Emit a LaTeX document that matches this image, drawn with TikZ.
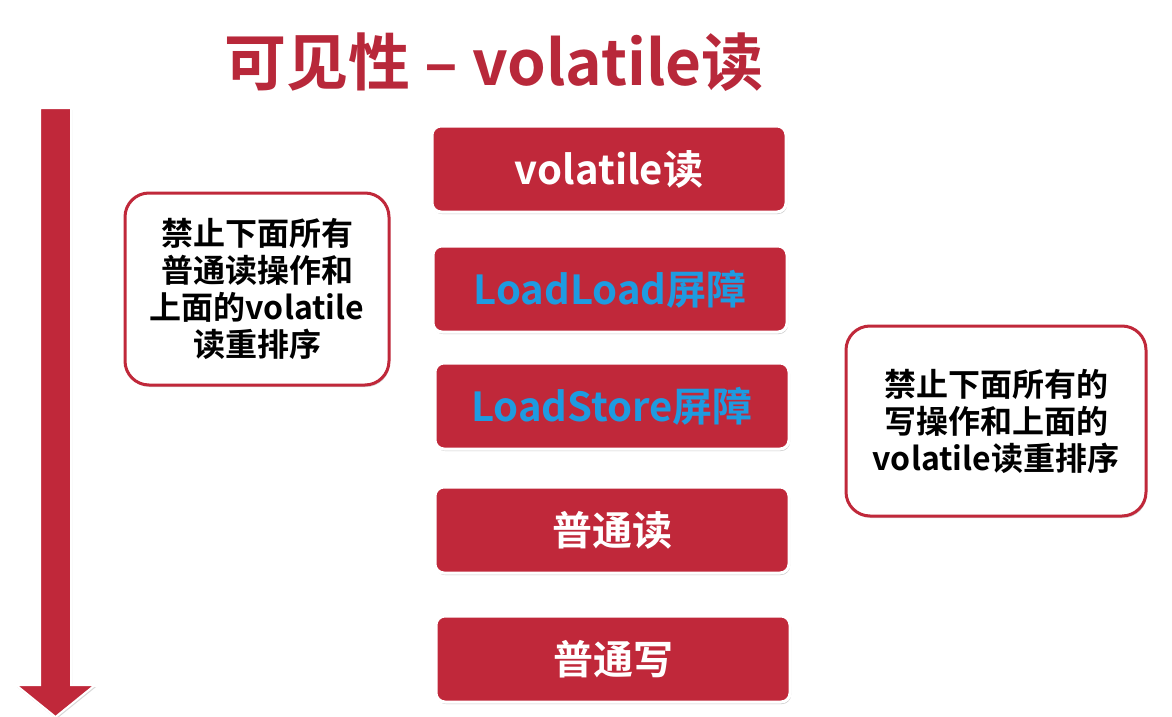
\documentclass[tikz,border=0pt]{standalone}
\usepackage{fontspec}
\setmainfont{Noto Sans CJK SC Bold}
\usetikzlibrary{shadows}
\definecolor{cred}{HTML}{C0283A}
\definecolor{tred}{HTML}{B8283A}
\definecolor{cblue}{HTML}{1E9BE0}
\begin{document}
\begin{tikzpicture}[x=1pt,y=-1pt,
  stepbox/.style={draw=white,line width=3pt,fill=cred,rounded corners=9pt,
    drop shadow={shadow xshift=1pt,shadow yshift=-2pt,opacity=0.4},
    minimum width=354pt,minimum height=86pt,font=\fontsize{40}{46}\selectfont,text=white},
  note/.style={draw=cred,line width=3pt,fill=white,rounded corners=24pt,
    drop shadow={shadow xshift=1pt,shadow yshift=-2pt,opacity=0.3},
    font=\fontsize{32}{37}\selectfont,align=center,text=black}]
\useasboundingbox (0,0) rectangle (1172,717);
\fill[white] (0,0) rectangle (1172,717);
\node[text=tred,font=\fontsize{62}{70}\selectfont] (title) at (494,62) {可见性 – volatile读};
\fill[cred,draw=white,line width=2pt,drop shadow={shadow xshift=1pt,shadow yshift=-2pt,opacity=0.3}]
  (40,108) -- (71,108) -- (71,685) -- (95,685) -- (55.5,717) -- (16,685) -- (40,685) -- cycle;
\node[stepbox] (b1) at (609,169) {volatile读};
\node[stepbox,text=cblue] (b2) at (610,289) {LoadLoad屏障};
\node[stepbox,text=cblue] (b3) at (612,406) {LoadStore屏障};
\node[stepbox] (b4) at (612,530) {普通读};
\node[stepbox] (b5) at (613,659) {普通写};
\node[note,minimum width=264pt,minimum height=192pt] (n1) at (257,289)
  {禁止下面所有\\普通读操作和\\上面的volatile\\读重排序};
\node[note,minimum width=300pt,minimum height=190pt] (n2) at (996,421)
  {禁止下面所有的\\写操作和上面的\\volatile读重排序};
\end{tikzpicture}
\end{document}
